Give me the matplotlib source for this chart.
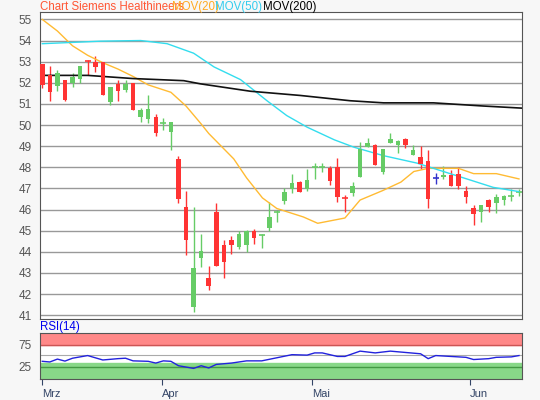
import matplotlib
matplotlib.use("Agg")
import matplotlib.pyplot as plt
import numpy as np

plt.rcParams['font.family'] = ['Liberation Sans', 'DejaVu Sans']

opens  = [52.9,52.35,51.85,52.15,52.0,52.2,53.1,53.0,53.0,51.1,51.95,51.65,52.0,50.4,50.3,50.4,50.1,49.65,48.4,46.1,
          41.4,43.7,42.75,45.9,44.3,44.55,44.25,44.3,45.0,44.75,45.15,45.85,46.4,46.95,47.3,46.95,47.95,47.95,47.95,48.0,
          46.6,46.8,47.55,48.95,49.05,47.8,49.15,49.05,49.35,48.6,48.5,48.3,47.5,47.55,47.65,47.7,46.9,46.05,45.9,46.45,
          46.3,46.45,46.6,46.8]
closes = [51.9,51.55,52.45,51.2,52.25,52.8,53.05,52.75,51.4,51.8,51.6,51.95,50.7,50.7,50.75,49.6,50.12,50.15,46.5,44.55,
          43.25,44.05,42.4,43.35,43.5,44.3,44.85,45.0,44.65,44.8,45.65,45.9,46.85,47.25,46.85,47.4,48.0,48.0,47.35,46.6,
          46.55,47.1,48.85,49.15,48.1,48.85,49.35,49.25,49.05,48.8,48.15,46.5,47.5,47.65,47.1,47.1,46.6,45.8,46.2,46.1,
          46.6,46.65,46.65,46.85]
highs  = [52.9,52.8,52.6,52.15,52.45,52.8,53.1,53.25,53.0,51.8,52.15,52.15,52.0,50.8,51.4,50.5,50.35,50.15,48.55,46.9,
          46.1,44.85,43.35,46.3,44.55,44.75,45.0,45.05,45.1,44.85,46.35,46.0,47.0,47.7,47.35,47.9,48.2,48.2,48.05,48.45,
          46.7,47.3,49.2,49.4,49.1,48.85,49.6,49.3,49.4,49.05,49.0,48.8,47.75,48.05,47.85,48.0,47.1,46.2,46.2,46.5,
          46.75,46.7,46.95,46.95]
lows   = [51.75,51.15,51.6,51.15,51.8,52.0,52.35,52.5,51.4,50.95,51.15,51.55,50.7,50.15,50.1,49.5,49.75,48.8,46.3,43.85,
          41.15,43.3,42.2,43.35,42.75,43.9,44.15,44.0,44.35,44.2,45.0,45.4,46.25,46.8,46.85,46.9,47.45,47.8,47.15,46.35,
          45.9,46.65,47.55,48.95,48.1,47.7,49.15,48.7,48.9,48.6,47.9,46.05,47.2,47.45,47.1,46.95,46.3,45.25,45.4,45.9,
          45.85,46.2,46.4,46.65]

ma20_x = [0,2,4,6,8,10,12,14,17,19,21,22,25.3,27,29.1,31,34.5,36.4,40,42,45,47.4,49.1,51,55,57,60,63]
ma20_y = [55.0,54.45,53.75,53.3,52.95,52.65,52.3,51.9,51.55,50.9,50.05,49.6,48.4,47.5,46.55,46.05,45.65,45.35,45.6,
          46.45,46.9,47.3,47.8,47.95,47.95,47.7,47.7,47.45]
ma50_x = [0,3.3,7.7,13,16.5,20,22.7,26.2,29.7,32.3,35,38.6,41.2,45.1,49.5,51.7,56.1,59.6,63]
ma50_y = [53.85,53.9,53.97,54.0,53.85,53.4,52.75,52.15,51.15,50.45,49.9,49.3,48.95,48.55,48.2,47.95,47.45,47.05,46.85]
ma200_x = [0,6,12,18.7,20.9,27.5,34.1,40.7,45.1,51.7,58.3,63.4]
ma200_y = [52.35,52.35,52.2,52.1,51.95,51.6,51.4,51.15,51.05,51.05,50.9,50.8]

rsi_x = [0,1,2,3,4,6,8,10,11,12,14,15,16,17,18,20,21,22,23,25,27,29,31,33,35,36,37,39,40,42,44,46,48,50,51,52,54,56,57,59,60,62,63]
rsi_y = [37,35.5,42,37.5,44,50,40,43,44,38,37,33,38,37,27,21,27,22,30,33,38,38,45,52,51,56,56,48,48,60,56,60,57,54,43,50,48,46,41,43,46,47,50]

tick_pos = [0, 15.8, 35.6, 56.5]
tick_lab = ["Mrz", "Apr", "Mai", "Jun"]

fig = plt.figure(figsize=(5.4, 4.0), dpi=100, facecolor="#f7f7f7")
ax = fig.add_axes([40/540, 1-319/400, 482/540, 307/400])
ax2 = fig.add_axes([40/540, 1-379/400, 482/540, 46/400])

x = np.arange(len(opens))
for i in x:
    o, c, h, l = opens[i], closes[i], highs[i], lows[i]
    if abs(o - c) < 0.08:
        col = "#3333cc" if i == 52 else ("#ff3333" if c < o else "#66cc66")
        ax.vlines(i, l, h, color=col, lw=1)
        ax.hlines(c, i - 0.4, i + 0.4, color=col, lw=1.2)
        continue
    col = "#66cc66" if c > o else "#ff3333"
    ax.vlines(i, l, h, color=col, lw=1, zorder=2)
    ax.bar(i, abs(c - o), bottom=min(o, c), width=0.6, color=col, zorder=3)

ax.plot(ma20_x, ma20_y, color="#ffbb33", lw=1)
ax.plot(ma50_x, ma50_y, color="#33ddee", lw=1)
ax.plot(ma200_x, ma200_y, color="#111111", lw=1.2)

ax.set_xlim(-0.3, 63.4)
ax.set_ylim(40.82, 55.35)
ax.set_yticks(range(41, 56))
ax.grid(axis="y", color="#999999", lw=1)
ax.set_axisbelow(True)
ax.tick_params(axis="y", length=0, labelsize=8.5, labelcolor="#555555", pad=6)
ax.tick_params(axis="x", length=0, labelbottom=False)
for s in ax.spines.values():
    s.set_color("#555555")

ax2.axhspan(75, 101, color="#ff8888")
ax2.axhspan(-3, 34, color="#88d888")
ax2.axhline(75, color="#cc5555", lw=1)
ax2.axhline(25, color="#449944", lw=1)
ax2.axhline(52, color="#aaaaaa", lw=0.8)
ax2.plot(rsi_x, rsi_y, color="#2222dd", lw=1)
ax2.set_xlim(-0.3, 63.4)
ax2.set_ylim(-3, 101)
ax2.set_yticks([25, 75])
ax2.set_xticks(tick_pos)
ax2.set_xticklabels(tick_lab)
ax2.tick_params(axis="y", length=0, labelsize=8.5, labelcolor="#555555", pad=6)
ax2.tick_params(axis="x", labelsize=8, labelcolor="#334466", color="#334466", length=4)
for t in ax2.get_xticklabels():
    t.set_horizontalalignment("left")
for s in ax2.spines.values():
    s.set_color("#555555")

fig.text(40/540, 1-7/400, "Chart Siemens Healthineers", color="#ff5533", fontsize=8.3, va="center")
fig.text(172/540, 1-7/400, "MOV(20)", color="#ffaa22", fontsize=8.3, va="center")
fig.text(215/540, 1-7/400, "MOV(50)", color="#33ccee", fontsize=8.3, va="center")
fig.text(263/540, 1-7/400, "MOV(200)", color="#000000", fontsize=8.3, va="center")
fig.text(40/540, 1-327/400, "RSI(14)", color="#0000ee", fontsize=8.3, va="center")

fig.savefig("out.png", dpi=100, facecolor=fig.get_facecolor())
